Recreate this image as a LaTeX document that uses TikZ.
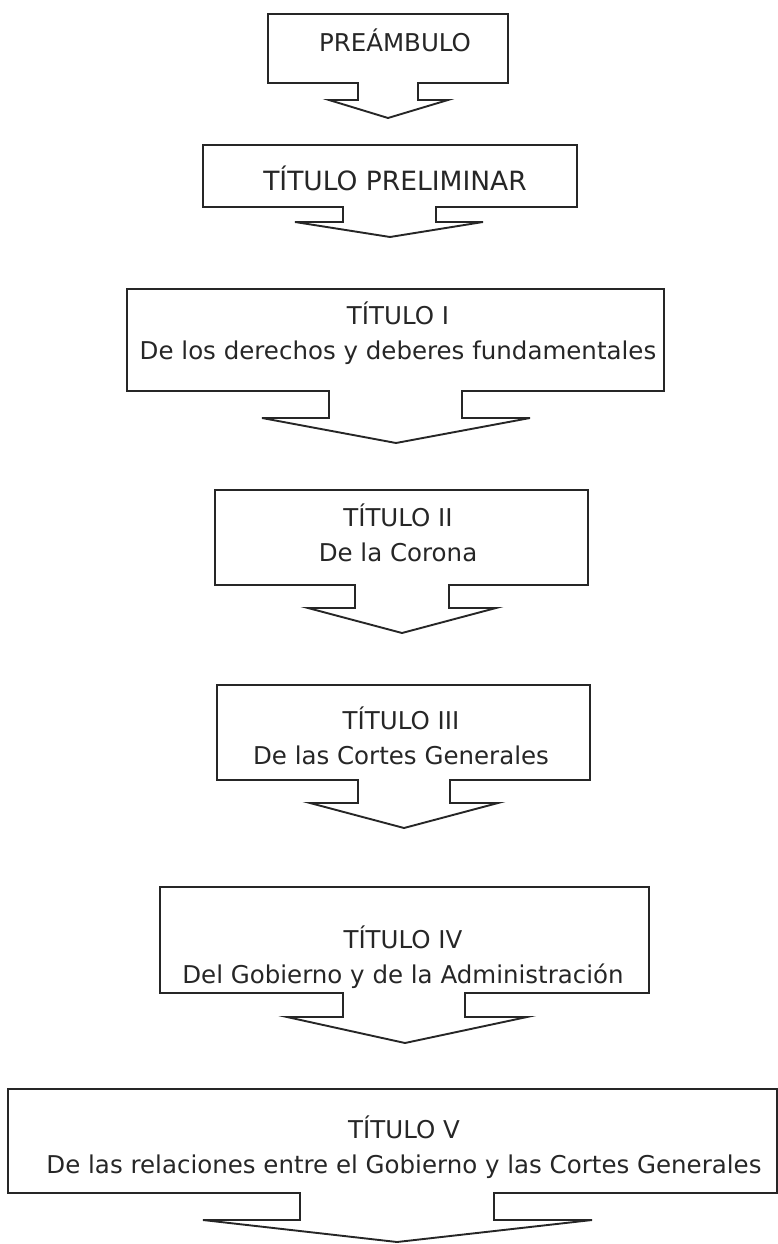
\documentclass[tikz,border=0pt]{standalone}
\usepackage{fontspec}
\setmainfont{DejaVu Sans}

\tikzset{
  outline/.style={draw=black!85, line width=1.9pt, line join=miter},
  title/.style={inner sep=0pt, align=center, anchor=base, text=black!85,
    font=\fontsize{24.5}{35}\selectfont}
}

\begin{document}
\begin{tikzpicture}[x=1pt, y=-1pt]
  \useasboundingbox (0,0) rectangle (778,1244);

  % Draw the box for the preamble
  \draw[outline] (268,14) -- (508,14) -- (508,83) -- (418,83) -- (418,100) -- (448,100)
    -- (388,118) -- (329,100) -- (358,100) -- (358,83) -- (268,83) -- cycle;
  \node[title] (pre) at (395,52) {PREÁMBULO};

  % Titulo preliminar
  \draw[outline] (203,145) -- (577,145) -- (577,207) -- (436,207) -- (436,222) -- (483,222)
    -- (390,237) -- (295,222) -- (343,222) -- (343,207) -- (203,207) -- cycle;
  \node[title, font=\fontsize{26.5}{35}\selectfont] (tprel) at (395,190) {TÍTULO PRELIMINAR};

  % Titulo I (base = last line)
  \draw[outline] (127,289) -- (664,289) -- (664,391) -- (462,391) -- (462,418) -- (530,418)
    -- (396,443) -- (262,418) -- (329,418) -- (329,391) -- (127,391) -- cycle;
  \node[title] (t1) at (398,359) {TÍTULO I\\De los derechos y deberes fundamentales};

  % Titulo II
  \draw[outline] (215,490) -- (588,490) -- (588,585) -- (449,585) -- (449,608) -- (496,608)
    -- (402,633) -- (308,608) -- (355,608) -- (355,585) -- (215,585) -- cycle;
  \node[title] (t2) at (398,561) {TÍTULO II\\De la Corona};

  % Titulo III
  \draw[outline] (217,685) -- (590,685) -- (590,780) -- (450,780) -- (450,803) -- (498,803)
    -- (404,828) -- (310,803) -- (358,803) -- (358,780) -- (217,780) -- cycle;
  \node[title] (t3) at (401,764) {TÍTULO III\\De las Cortes Generales};

  % Titulo IV
  \draw[outline] (160,887) -- (649,887) -- (649,993) -- (465,993) -- (465,1017) -- (527,1017)
    -- (405,1043) -- (287,1017) -- (343,1017) -- (343,993) -- (160,993) -- cycle;
  \node[title] (t4) at (403,983) {TÍTULO IV\\Del Gobierno y de la Administración};

  % Titulo V
  \draw[outline] (8,1089) -- (777,1089) -- (777,1193) -- (494,1193) -- (494,1220) -- (592,1220)
    -- (397,1242) -- (203,1220) -- (300,1220) -- (300,1193) -- (8,1193) -- cycle;
  \node[title] (t5) at (404,1173) {TÍTULO V\\De las relaciones entre el Gobierno y las Cortes Generales};

\end{tikzpicture}
\end{document}
